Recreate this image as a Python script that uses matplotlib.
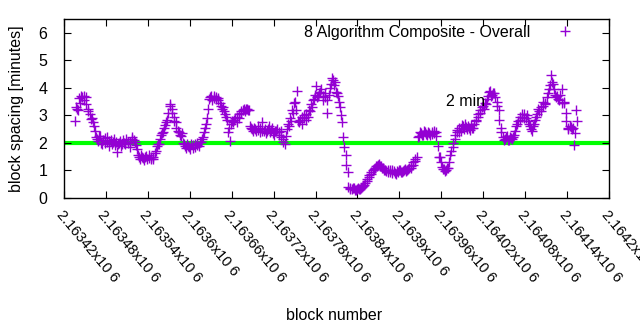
import numpy as np
import matplotlib
matplotlib.use("Agg")
import matplotlib.pyplot as plt

plt.rcParams['font.family'] = ['Liberation Sans', 'DejaVu Sans']

# block spacing in minutes, read every 3rd block from 2163436 (two interleaved reads)
block_start = 2163436
block_step = 3
spacing = [
    2.78, 3.25, 3.62, 3.70, 3.55, 3.66, 3.22, 3.05, 2.92, 2.60,
    2.20, 2.08, 2.25, 1.95, 2.18, 2.05, 1.90, 2.10, 2.02, 1.92,
    1.68, 2.00, 1.88, 2.12, 1.95, 2.05, 1.85, 2.20, 2.10, 1.92,
    1.55, 1.42, 1.50, 1.38, 1.52, 1.45, 1.40, 1.48, 1.62, 1.88,
    1.95, 2.28, 2.40, 2.65, 2.85, 3.40, 3.25, 2.95, 2.75, 2.45,
    2.30, 2.35, 1.95, 1.82, 1.90, 1.78, 1.92, 1.85, 2.00, 1.88,
    2.05, 2.20, 2.55, 2.90, 3.60, 3.70, 3.62, 3.68, 3.55, 3.45,
    3.25, 3.15, 2.95, 2.40, 2.08, 2.80, 2.85, 2.75, 2.90, 3.10,
    3.20, 3.15, 3.25, 3.20, 2.55, 2.45, 2.50, 2.60, 2.40, 2.75,
    2.45, 2.35, 2.50, 2.40, 2.55, 2.30, 2.45, 2.38, 2.20, 2.15,
    1.95, 2.50, 2.60, 2.80, 3.10, 3.50, 3.90, 2.75, 2.70, 2.90,
    2.85, 2.95, 3.15, 3.30, 3.60, 4.05, 3.70, 3.85, 3.55, 3.65,
    3.10, 3.75, 4.15, 4.30, 4.20, 3.80, 3.50, 3.00, 2.20, 1.55,
    0.95, 0.38, 0.32, 0.35, 0.30, 0.36, 0.33, 0.40, 0.48, 0.60,
    0.75, 0.88, 1.00, 1.10, 1.18, 1.22, 1.15, 1.08, 1.02, 0.95,
    1.00, 0.92, 0.98, 0.88, 0.95, 1.02, 0.93, 1.00, 0.97, 1.05,
    1.10, 1.20, 1.35, 1.50, 2.25, 2.35, 2.30, 2.40, 2.28, 2.35,
    2.32, 2.45, 2.38, 1.90, 1.50, 1.12, 1.05, 1.00, 1.10, 1.55,
    1.85, 2.15, 2.40, 2.55, 2.45, 2.60, 2.70, 2.50, 2.55, 2.65,
    2.55, 2.80, 2.95, 3.10, 3.30, 3.25, 3.40, 3.70, 3.90, 3.75,
    3.80, 3.50, 3.20, 2.55, 2.20, 2.15, 2.25, 2.10, 2.18, 2.22,
    2.45, 2.70, 2.85, 2.95, 3.05, 2.90, 2.80, 2.60, 2.45, 2.70,
    2.95, 3.25, 3.15, 3.35, 3.45, 3.65, 3.95, 4.45, 4.15, 3.75,
    3.70, 3.55, 3.95, 3.45, 3.10, 2.55, 2.60, 2.50, 1.93, 3.20,
]
spacing_b = [
    3.30, 3.20, 3.45, 3.65, 3.72, 3.40, 3.15, 2.88, 2.75, 2.45,
    2.15, 2.25, 2.00, 2.12, 1.98, 2.22, 2.08, 1.95, 2.15, 2.05,
    1.95, 2.08, 1.95, 2.00, 2.15, 1.98, 2.05, 2.15, 2.02, 1.78,
    1.48, 1.55, 1.45, 1.50, 1.40, 1.55, 1.50, 1.42, 1.72, 1.95,
    2.15, 2.35, 2.55, 2.75, 3.10, 3.35, 3.10, 2.80, 2.55, 2.40,
    2.25, 2.00, 1.88, 1.95, 1.85, 1.95, 1.80, 1.95, 1.92, 2.02,
    2.15, 2.40, 2.70, 3.25, 3.68, 3.55, 3.72, 3.60, 3.62, 3.35,
    3.30, 3.05, 2.85, 2.55, 2.70, 2.75, 2.90, 2.95, 3.05, 3.15,
    3.25, 3.22, 3.18, 2.60, 2.50, 2.55, 2.42, 2.48, 2.55, 2.45,
    2.50, 2.45, 2.62, 2.48, 2.35, 2.42, 2.50, 2.30, 2.45, 2.05,
    2.25, 2.70, 2.90, 3.20, 3.45, 3.20, 2.80, 2.85, 2.95, 3.00,
    3.05, 3.20, 3.40, 3.55, 3.75, 3.65, 3.80, 3.95, 3.70, 3.80,
    3.55, 4.00, 4.35, 4.10, 3.85, 3.70, 3.30, 2.75, 1.85, 1.20,
    0.40, 0.33, 0.38, 0.30, 0.34, 0.32, 0.38, 0.45, 0.55, 0.68,
    0.82, 0.95, 1.05, 1.15, 1.20, 1.18, 1.10, 1.00, 0.98, 1.00,
    0.95, 1.00, 0.92, 0.97, 1.00, 0.95, 0.98, 1.05, 1.00, 1.10,
    1.15, 1.30, 1.42, 2.20, 2.38, 2.28, 2.42, 2.32, 2.40, 2.30,
    2.40, 2.35, 2.25, 1.50, 1.30, 1.05, 0.98, 1.08, 1.30, 1.70,
    2.00, 2.28, 2.48, 2.40, 2.65, 2.50, 2.58, 2.62, 2.48, 2.55,
    2.70, 2.85, 3.05, 3.20, 3.35, 3.45, 3.60, 3.85, 3.70, 3.82,
    3.65, 3.35, 2.85, 2.40, 2.12, 2.22, 2.12, 2.20, 2.15, 2.30,
    2.60, 2.80, 2.95, 3.05, 2.92, 3.00, 2.70, 2.50, 2.60, 2.85,
    3.05, 3.15, 3.30, 3.50, 3.40, 3.80, 4.10, 4.20, 3.95, 3.65,
    3.60, 3.75, 3.45, 3.50, 2.80, 2.50, 2.58, 2.55, 2.35, 2.80,
]
blocks = block_start + block_step * np.arange(len(spacing))
blocks_b = blocks + 1

target = 2  # minutes
xticks = np.arange(2163420, 2164201, 60)
xtick_labels = ["%.6gx10 6" % (t / 1e6) for t in xticks]

fs = 11.5
fig = plt.figure(figsize=(6.4, 3.3), dpi=100)
ax = fig.add_axes([0.1, 0.4, 0.8516, 0.5424])

ax.axhline(target, color='#00ff00', lw=3, zorder=1)
ax.plot(np.concatenate([blocks, blocks_b]), spacing + spacing_b, ls='none',
        marker='+', ms=6.5, mew=1, color='#9400d3',
        label='8 Algorithm Composite - Overall', zorder=2)
ax.text(2163967, 3.49, '2 min', fontsize=fs, ha='left', va='center')

ax.set_xlim(2163420, 2164200)
ax.set_ylim(0, 6.5)
ax.set_yticks(range(0, 7))
ax.set_xticks(xticks)
ax.set_xticklabels(xtick_labels, rotation=-50, ha='left', va='top',
                   rotation_mode='anchor')
ax.tick_params(direction='in', top=True, right=True, length=5, labelsize=fs)
ax.tick_params(axis='y', pad=12)
ax.tick_params(axis='x', pad=7, labelsize=10.5)
for s in ax.spines.values():
    s.set_linewidth(1)

ax.set_ylabel('block spacing [minutes]', fontsize=fs)
ax.yaxis.set_label_coords(-0.073, 0.5)
fig.text(334 / 640, 1 - 316 / 330, 'block number', fontsize=fs,
         ha='center', va='center')

ax.legend(loc='center right', bbox_to_anchor=(0.9486, 0.927), frameon=False,
          markerfirst=False, borderpad=0, borderaxespad=0, handlelength=2,
          handletextpad=1.2, fontsize=fs)

fig.savefig('out.png', dpi=100)
